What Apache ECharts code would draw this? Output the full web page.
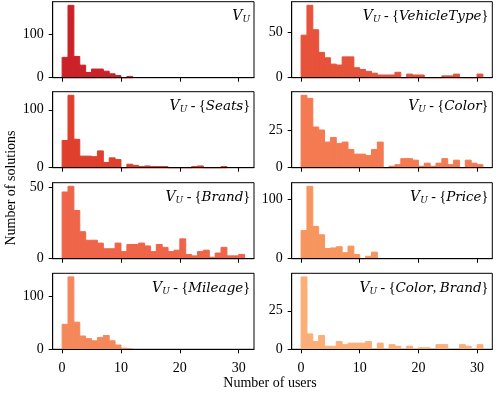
<!DOCTYPE html>
<html>
<head>
<meta charset="utf-8">
<script src="https://cdn.jsdelivr.net/npm/echarts@6/dist/echarts.min.js"></script>
<style>
  html, body { margin: 0; padding: 0; background: #fff; }
  #chart { width: 498px; height: 394px; }
</style>
</head>
<body>
<div id="chart"></div>
<script>
// histogram counts, one bin per user count (bin i covers [i, i+1))
const vU = [47, 167, 49, 29, 12, 20, 20, 15, 9, 5, 0, 3];
const vVehicleType = [47, 80, 53, 28, 22, 15, 14, 23, 23, 11, 9, 7, 5, 3, 3, 3, 6, 0, 4, 3, 3, 0, 0, 0, 2, 2, 4, 0, 0, 0, 4];
const vSeats = [47, 125, 49, 20, 20, 19, 29, 9, 17, 14, 0, 6, 4, 2, 3, 2, 2, 2, 0, 0, 0, 0, 2, 3, 0, 0, 0, 2];
const vColor = [48, 46, 27, 25, 17, 20, 16, 17, 12, 9, 9, 8, 12, 17, 0, 1, 2, 6, 6, 5, 1, 3, 1, 3, 6, 2, 5, 0, 5, 3, 2];
const vBrand = [47, 51, 34, 19, 13, 13, 11, 7, 7, 11, 5, 10, 10, 11, 9, 5, 10, 8, 5, 6, 14, 3, 2, 5, 6, 1, 4, 8, 2, 2, 3];
const vPrice = [47, 121, 54, 40, 17, 18, 20, 10, 21, 7, 0, 4, 11];
const vMileage = [47, 136, 51, 25, 20, 16, 22, 26, 16, 8, 2, 1];
const vColorBrand = [47, 10, 5, 9, 2, 2, 5, 3, 4, 4, 4, 5, 0, 4, 0, 3, 2, 0, 2, 0, 1, 1, 0, 3, 3, 0, 0, 3, 2, 0, 3];

const xTicks = [0, 10, 20, 30];

// panels in reading order (row by row, left then right)
const panels = [
  { counts: vU, label: '{v|V}{s|U}', color: '#cb2229', yTicks: [0, 100] },
  { counts: vVehicleType, label: '{v|V}{s|U} - {{i|VehicleType}}', color: '#e6523a', yTicks: [0, 50] },
  { counts: vSeats, label: '{v|V}{s|U} - {{i|Seats}}', color: '#df3f2c', yTicks: [0, 100] },
  { counts: vColor, label: '{v|V}{s|U} - {{i|Color}}', color: '#f47a52', yTicks: [0, 25] },
  { counts: vBrand, label: '{v|V}{s|U} - {{i|Brand}}', color: '#ef6549', yTicks: [0, 50] },
  { counts: vPrice, label: '{v|V}{s|U} - {{i|Price}}', color: '#f7955f', yTicks: [0, 100] },
  { counts: vMileage, label: '{v|V}{s|U} - {{i|Mileage}}', color: '#f5885a', yTicks: [0, 100] },
  { counts: vColorBrand, label: '{v|V}{s|U} - {{i|Color}, {i|Brand}}', color: '#fbae78', yTicks: [0, 25] }
];

const FONT = 'Liberation Serif';
const MATH = 'DejaVu Serif';
const colLeft = [52.7, 291.7];
const colWidth = [201.3, 200.6];
const rowTop = [1.7, 91.7, 182.7, 273.3];
const rowHeight = 76;

const grids = [], xAxes = [], yAxes = [], series = [], graphics = [];

panels.forEach((p, k) => {
  const row = Math.floor(k / 2), col = k % 2;
  const bottomRow = row === 3;
  const ymax = Math.max(...p.counts) * 1.05;
  grids.push({
    left: colLeft[col], top: rowTop[row], width: colWidth[col], height: rowHeight,
    show: true, borderColor: '#000', borderWidth: 1, backgroundColor: 'transparent'
  });
  xAxes.push({
    gridIndex: k, type: 'value', min: -1.6, max: 32.6, z: 5,
    splitLine: { show: false },
    axisLine: { show: true, onZero: false, lineStyle: { color: '#000', width: 1 } },
    axisTick: { show: true, length: 4, lineStyle: { color: '#000', width: 1 }, customValues: xTicks },
    axisLabel: {
      show: bottomRow, customValues: xTicks, margin: 12,
      fontFamily: FONT, fontSize: 14, color: '#000'
    }
  });
  yAxes.push({
    gridIndex: k, type: 'value', min: 0, max: ymax, z: 5,
    splitLine: { show: false },
    axisLine: { show: true, onZero: false, lineStyle: { color: '#000', width: 1 } },
    axisTick: { show: true, length: 4, lineStyle: { color: '#000', width: 1 }, customValues: p.yTicks },
    axisLabel: {
      customValues: p.yTicks, margin: 9,
      fontFamily: FONT, fontSize: 14, color: '#000'
    }
  });
  series.push({
    type: 'custom',
    xAxisIndex: k, yAxisIndex: k,
    data: p.counts.map((c, i) => [i, i + 1, c]),
    encode: { x: [0, 1], y: 2 },
    renderItem: function (params, api) {
      const a = api.coord([api.value(0), api.value(2)]);
      const b = api.coord([api.value(1), 0]);
      return {
        type: 'rect',
        shape: { x: a[0], y: a[1], width: b[0] - a[0], height: b[1] - a[1] },
        style: { fill: p.color, stroke: p.color, lineWidth: 1 }
      };
    }
  });
  graphics.push({
    type: 'text',
    x: colLeft[col] + colWidth[col] - 4,
    y: rowTop[row] + 15,
    style: {
      text: p.label,
      align: 'right', verticalAlign: 'middle',
      fontFamily: FONT, fontSize: 14, fill: '#000',
      rich: {
        v: { fontFamily: MATH, fontStyle: 'italic', fontSize: 14 },
        s: { fontFamily: MATH, fontStyle: 'italic', fontSize: 9, verticalAlign: 'bottom', padding: [6, 0, 0, 0] },
        i: { fontFamily: MATH, fontStyle: 'italic', fontSize: 13.5 }
      }
    }
  });
});

graphics.push({
  type: 'text', x: 270, y: 383,
  style: { text: 'Number of users', align: 'center', verticalAlign: 'middle', fontFamily: FONT, fontSize: 14, fill: '#000' }
});
graphics.push({
  type: 'text', x: 11, y: 188, rotation: Math.PI / 2,
  style: { text: 'Number of solutions', align: 'center', verticalAlign: 'middle', fontFamily: FONT, fontSize: 14, fill: '#000' }
});

const chart = echarts.init(document.getElementById('chart'), null, { renderer: 'canvas' });
chart.setOption({
  animation: false,
  backgroundColor: '#fff',
  grid: grids,
  xAxis: xAxes,
  yAxis: yAxes,
  series: series,
  graphic: graphics
});
</script>
</body>
</html>
